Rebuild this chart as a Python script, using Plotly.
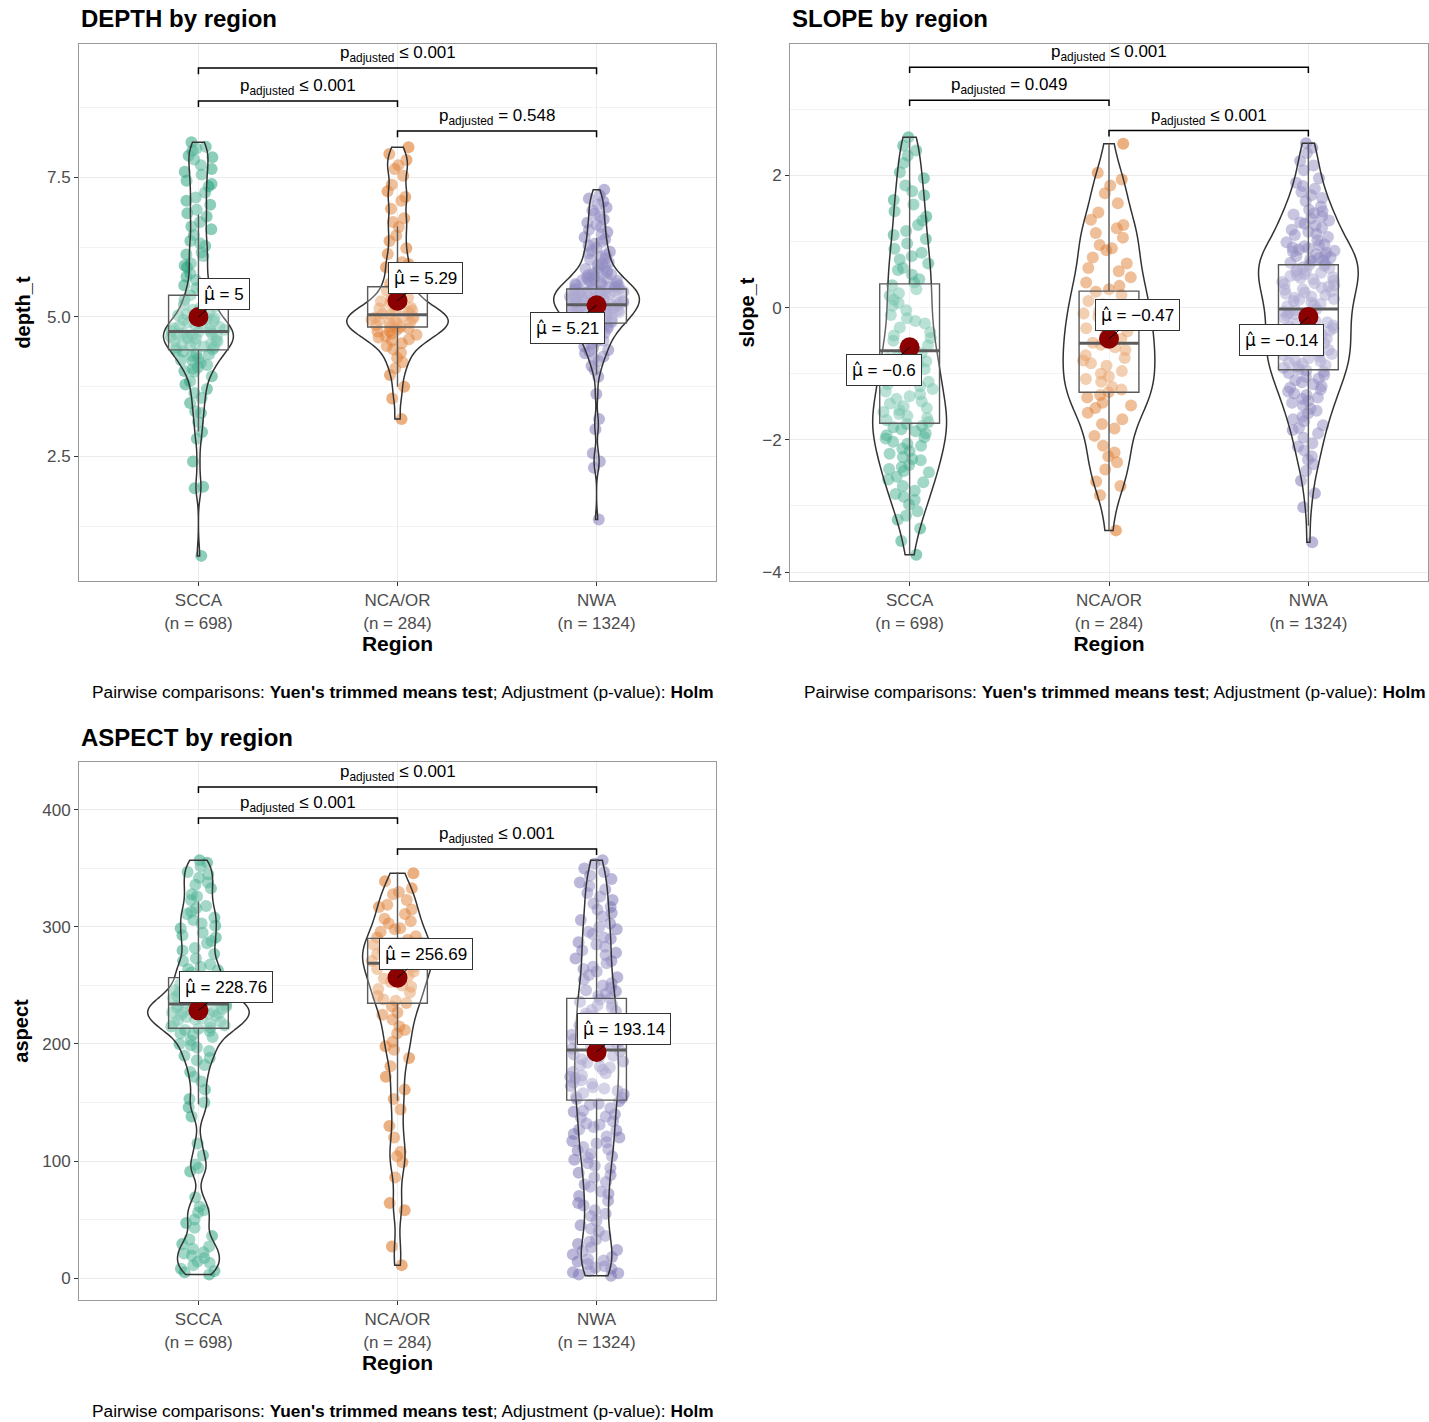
import plotly.graph_objects as go

W, H = 1429, 1422
FONT = "Liberation Sans, Arial, Helvetica, sans-serif"

regions = ["SCCA", "NCA/OR", "NWA"]
n_obs = [698, 284, 1324]
region_colors = ["#1B9E77", "#D95F02", "#7570B3"]
bracket_pairs = [(0, 2), (0, 1), (1, 2)]  # top, middle, bottom bracket

# ---------------- DEPTH ----------------
depth_scca = [0.72, 1.93, 1.96, 2.41, 2.82, 2.94, 3.12, 3.28, 3.31, 3.46,
              3.55, 3.64, 3.71, 3.79, 3.85, 3.94,
              4.02, 4.07, 4.1, 4.18, 4.21, 4.25, 4.3, 4.33, 4.38, 4.4, 4.42, 4.46, 4.47, 4.49,
              4.51, 4.53, 4.57, 4.58, 4.61, 4.64, 4.65, 4.68, 4.7, 4.71, 4.74, 4.75, 4.79, 4.8,
              4.84, 4.86, 4.88, 4.93, 4.95, 4.98,
              5.03, 5.07, 5.13, 5.16, 5.22, 5.27, 5.33, 5.39, 5.43, 5.49,
              5.57, 5.66, 5.78, 5.89, 5.96, 6.09, 6.16, 6.27, 6.36, 6.47,
              6.57, 6.7, 6.8, 6.92, 7.01, 7.14, 7.23, 7.34, 7.44,
              7.55, 7.65, 7.72, 7.82, 7.89, 7.98, 8.05, 8.13,
              4.03, 4.14, 4.23, 4.34, 4.44, 4.52, 4.56, 4.62, 4.66, 4.69, 4.73, 4.77, 4.82, 4.9,
              4.97, 5.05, 5.19, 5.31, 5.52, 5.72, 5.92, 6.12, 6.32, 6.62, 6.86, 7.08, 7.38, 7.6,
              7.86, 8.02]
depth_nca = [3.17, 3.54, 3.75, 3.96,
             4.08, 4.19, 4.27, 4.36, 4.42, 4.48,
             4.53, 4.58, 4.63, 4.66, 4.7, 4.74, 4.77, 4.8, 4.83, 4.85, 4.89, 4.9, 4.94, 4.95, 4.97, 4.99,
             5.01, 5.04, 5.06, 5.1, 5.12, 5.17, 5.2, 5.24, 5.31, 5.35, 5.42, 5.47,
             5.56, 5.66, 5.76, 5.89, 5.98, 6.13, 6.23, 6.36, 6.46,
             6.61, 6.77, 6.94, 7.08, 7.25, 7.37, 7.53, 7.65, 7.81, 7.92, 8.04,
             4.6, 4.68, 4.75, 4.82, 4.88, 4.93, 5.0, 5.08, 5.15, 5.28, 5.6, 5.95, 6.7, 7.15, 7.72]
depth_nwa = [1.37, 2.3, 2.41, 2.56, 2.99, 3.17, 3.62, 3.93, 4.05,
             4.12, 4.21, 4.29, 4.35, 4.41, 4.47,
             4.52, 4.56, 4.59, 4.61, 4.65, 4.67, 4.71, 4.73, 4.76, 4.79,
             4.81, 4.83, 4.84, 4.87, 4.88, 4.9, 4.92, 4.94, 4.95, 4.96, 4.98, 4.99,
             5.01, 5.02, 5.04, 5.06, 5.07, 5.09, 5.1, 5.12, 5.13, 5.15, 5.16, 5.18, 5.19, 5.2,
             5.22, 5.23, 5.25, 5.26, 5.28, 5.29, 5.3, 5.32, 5.33, 5.34, 5.36, 5.37, 5.38, 5.4,
             5.41, 5.42, 5.44, 5.45, 5.46, 5.47, 5.48, 5.49, 5.5,
             5.52, 5.53, 5.56, 5.57, 5.59, 5.6, 5.62, 5.65, 5.66, 5.69, 5.7, 5.72, 5.75, 5.77, 5.79,
             5.83, 5.86, 5.9, 5.93, 5.98, 6.03, 6.05, 6.11, 6.14, 6.19,
             6.24, 6.31, 6.35, 6.43, 6.48, 6.56, 6.61, 6.69,
             6.75, 6.85, 6.91, 7.01, 7.07, 7.18, 7.28,
             4.45, 4.58, 4.69, 4.78, 4.86, 4.91, 4.97, 5.03, 5.08, 5.11, 5.14, 5.17, 5.21, 5.24,
             5.27, 5.31, 5.35, 5.39, 5.43, 5.46, 5.51, 5.54, 5.58, 5.63, 5.67, 5.71, 5.76, 5.81,
             5.88, 5.96, 6.08, 6.17, 6.28, 6.39, 6.52, 6.65, 6.8, 6.96, 7.12, 4.25, 4.38, 5.44,
             5.34, 5.25, 5.15]
depth_mean = [5.00, 5.29, 5.21]
depth_q1 = [4.41, 4.82, 4.89]
depth_median = [4.74, 5.04, 5.22]
depth_q3 = [5.39, 5.54, 5.50]
depth_lowerfence = [2.95, 3.75, 3.97]
depth_upperfence = [6.83, 6.62, 6.42]
depth_p = ["≤ 0.001", "≤ 0.001", "= 0.548"]

# ---------------- SLOPE ----------------
slope_scca = [2.05, 2.19, 2.3, 2.45, 2.58,
              1.04, 1.16, 1.25, 1.38, 1.46, 1.56, 1.63, 1.76, 1.85, 1.96,
              0.03, 0.12, 0.18, 0.28, 0.34, 0.43, 0.5, 0.57, 0.67, 0.73, 0.83, 0.89, 0.97,
              -0.04, -0.11, -0.16, -0.24, -0.3, -0.37, -0.42, -0.5, -0.57, -0.61, -0.69, -0.73,
              -0.81, -0.85, -0.93, -0.98,
              -1.03, -1.09, -1.12, -1.19, -1.23, -1.27, -1.34, -1.38, -1.42, -1.49, -1.52, -1.58,
              -1.61, -1.67, -1.7, -1.73, -1.79, -1.81, -1.87, -1.9, -1.93, -1.98,
              -2.03, -2.09, -2.13, -2.21, -2.26, -2.31, -2.38, -2.41, -2.47, -2.49,
              -2.56, -2.64, -2.7, -2.77, -2.86, -2.91, -2.98,
              -3.08, -3.21, -3.34, -3.53, -3.74,
              2.38, 1.7, 1.32, 1.1, 0.78, 0.6, 0.38, 0.22, 0.07, -0.2, -0.46, -0.65, -0.77, -0.9,
              -1.06, -1.16, -1.31, -1.45, -1.55, -1.64, -1.76, -1.84, -1.96, -2.06, -2.17, -2.29,
              -2.44, -2.6, -2.82, -3.15]
slope_nca = [1.58, 1.73, 1.85, 2.04, 2.48,
             0.55, 0.67, 0.76, 0.87, 0.95, 1.06, 1.13, 1.25, 1.33, 1.44,
             0.46, 0.38, 0.33, 0.24, 0.19, 0.1, 0.05, -0.03, -0.09, -0.14, -0.23, -0.27, -0.36, -0.4, -0.47,
             -0.53, -0.6, -0.64, -0.72, -0.76, -0.84, -0.88, -0.96, -1.0, -1.08, -1.12, -1.2,
             -1.24, -1.32, -1.36, -1.44, -1.48,
             -1.59, -1.69, -1.83, -1.94, -2.09, -2.19, -2.34, -2.45,
             -2.63, -2.84, -3.37,
             1.94, 1.2, 0.9, 0.6, 0.28, -0.06, -0.31, -0.56, -0.8, -1.04, -1.28, -1.52, -1.76,
             -2.25, -2.7]
slope_nwa = [2.08, 2.22, 2.34, 2.49,
             1.53, 1.61, 1.66, 1.75, 1.8, 1.89, 1.96,
             1.02, 1.07, 1.1, 1.15, 1.18, 1.24, 1.27, 1.32, 1.35, 1.41, 1.43, 1.48,
             0.51, 0.55, 0.56, 0.6, 0.61, 0.65, 0.66, 0.7, 0.71, 0.75, 0.76, 0.8, 0.81, 0.85,
             0.86, 0.9, 0.91, 0.95, 0.96, 0.99,
             0.02, 0.06, 0.08, 0.12, 0.13, 0.17, 0.19, 0.23, 0.25, 0.28, 0.3, 0.34, 0.36, 0.39,
             0.41, 0.45, 0.46, 0.49,
             -0.02, -0.06, -0.08, -0.12, -0.14, -0.18, -0.2, -0.24, -0.27, -0.31, -0.33, -0.37,
             -0.39, -0.43, -0.45, -0.49,
             -0.52, -0.56, -0.58, -0.62, -0.64, -0.68, -0.7, -0.74, -0.77, -0.81, -0.83, -0.87,
             -0.89, -0.93, -0.95, -0.99,
             -1.02, -1.07, -1.1, -1.16, -1.19, -1.24, -1.27, -1.32, -1.36, -1.41, -1.44, -1.48,
             -1.53, -1.6, -1.65, -1.72, -1.78, -1.85, -1.9, -1.97,
             -2.05, -2.16, -2.25, -2.37, -2.47,
             -2.62, -2.81, -3.02, -3.55,
             2.15, 2.42, 1.7, 1.84, 1.12, 1.21, 1.29, 1.38, 1.46, 0.53, 0.58, 0.63, 0.68, 0.73,
             0.78, 0.83, 0.88, 0.93, 0.04, 0.1, 0.15, 0.21, 0.27, 0.32, 0.37, 0.43, 0.48, -0.04,
             -0.1, -0.16, -0.22, -0.29, -0.35, -0.41, -0.47, -0.54, -0.6, -0.66, -0.72, -0.79,
             -0.85, -0.91, -0.97, -1.05, -1.13, -1.21, -1.3, -1.38, -1.56, -1.69, -1.82, -2.1, -2.3]
slope_mean = [-0.60, -0.47, -0.14]
slope_q1 = [-1.75, -1.28, -0.94]
slope_median = [-0.65, -0.54, -0.02]
slope_q3 = [0.36, 0.25, 0.65]
slope_lowerfence = [-3.74, -3.37, -3.30]
slope_upperfence = [2.58, 2.48, 2.49]
slope_p = ["≤ 0.001", "= 0.049", "≤ 0.001"]

# ---------------- ASPECT ----------------
aspect_scca = [3, 5, 8, 11, 14, 17, 19, 22, 25, 29, 36, 43,
               50, 56, 61, 69, 91, 94, 97, 115,
               138, 146, 153, 161, 168, 176,
               182, 186, 190, 194, 197, 200, 203, 206, 209,
               211, 212, 213, 214, 215, 216, 217, 218, 219, 220, 221, 222, 223, 224, 225, 226,
               226, 227, 227, 228, 229, 229, 230, 231, 232, 233, 234, 235, 236, 237, 238, 239,
               240, 241, 242, 244,
               246, 249, 252, 255, 258, 261, 264, 268,
               273, 277, 282, 286, 291, 295, 299, 303, 308,
               313, 318, 323, 328, 333, 338, 342, 347, 352, 357,
               6, 13, 21, 27, 33, 47, 58, 105, 150, 172, 188, 199, 208, 247, 251, 257, 263, 266,
               271, 280, 288, 293, 301, 306, 311, 316, 326, 336, 345, 355]
aspect_nca = [11, 27, 58, 64, 86, 99, 104, 108, 120, 130, 144, 153, 161, 172,
              181, 188, 195, 202, 209, 215, 221, 227,
              232, 235, 238, 241, 244, 247, 250, 253, 256, 259, 262, 264, 266, 268,
              271, 273, 275, 277, 279, 281, 283, 286, 289, 292, 296, 299, 303, 307,
              311, 315, 319, 323, 328, 333, 339, 346,
              198, 212, 225, 237, 249, 258, 267, 274, 280, 285, 291, 298, 305, 317, 330]
aspect_nwa = [303, 309, 315, 320, 326, 332, 338, 344, 350, 357,
              252, 255, 259, 262, 266, 269, 273, 276, 280, 283, 287, 290, 294, 298,
              201, 203, 206, 208, 211, 213, 216, 218, 221, 223, 226, 228, 231, 233, 236, 238,
              241, 243, 246, 248,
              151, 153, 155, 157, 160, 162, 164, 166, 169, 171, 173, 175, 178, 180, 182, 184,
              187, 189, 191, 193, 196, 198,
              101, 104, 106, 109, 112, 115, 117, 120, 123, 126, 129, 131, 134, 137, 140, 142,
              145, 148,
              62, 66, 70, 74, 78, 82, 86, 90, 94, 98,
              36, 40, 45, 49, 53, 58,
              2, 4, 6, 8, 10, 12, 14, 16, 18, 20, 23, 26, 29, 33,
              354, 347, 341, 335, 329, 323, 317, 312, 306, 300, 296, 291, 285, 278, 271, 264,
              257, 250, 245, 239, 234, 229, 224, 219, 214, 209, 204, 199, 194, 190, 185, 181,
              176, 172, 167, 163, 158, 154, 149, 143, 138, 132, 127, 121, 116, 110, 103, 96,
              88, 80, 72, 64, 55, 42, 31, 24, 15, 9, 5, 3]
aspect_mean = [228.76, 256.69, 193.14]
aspect_q1 = [213.4, 234.8, 152.0]
aspect_median = [234.2, 269.0, 194.9]
aspect_q3 = [256.7, 290.3, 239.0]
aspect_lowerfence = [148.4, 151.5, 2.0]
aspect_upperfence = [321.7, 347.0, 358.0]
aspect_p = ["≤ 0.001", "≤ 0.001", "≤ 0.001"]

# ---------------- panel layout/style ----------------
panels = [
    dict(title="DEPTH by region", ytitle="depth_t", xa="x", ya="y",
         samples=[depth_scca, depth_nca, depth_nwa], mean=depth_mean,
         q1=depth_q1, med=depth_median, q3=depth_q3, lf=depth_lowerfence, uf=depth_upperfence,
         p=depth_p, px=(79, 716), py=(44, 581), yrange=[0.27, 9.89], dtick=2.5, minor=1.25,
         fmt=".1f", br=[9.46, 8.87, 8.33], tip=0.11, standoff=10,
         vwidth=[0.35, 0.51, 0.43], bw=[0.2, 0.17, 0.15],
         off=[(26, -23), (28, -23), (-29, 23)]),
    dict(title="SLOPE by region", ytitle="slope_t", xa="x2", ya="y2",
         samples=[slope_scca, slope_nca, slope_nwa], mean=slope_mean,
         q1=slope_q1, med=slope_median, q3=slope_q3, lf=slope_lowerfence, uf=slope_upperfence,
         p=slope_p, px=(790, 1428), py=(44, 581), yrange=[-4.136, 3.99], dtick=2, minor=1,
         fmt="d", br=[3.64, 3.14, 2.68], tip=0.09, standoff=2,
         vwidth=[0.37, 0.46, 0.5], bw=[0.33, 0.33, 0.27],
         off=[(-26, 23), (28, -24), (-27, 23)]),
    dict(title="ASPECT by region", ytitle="aspect", xa="x3", ya="y3",
         samples=[aspect_scca, aspect_nca, aspect_nwa], mean=aspect_mean,
         q1=aspect_q1, med=aspect_median, q3=aspect_q3, lf=aspect_lowerfence, uf=aspect_upperfence,
         p=aspect_p, px=(79, 716), py=(762, 1300), yrange=[-18.8, 441.0], dtick=100, minor=50,
         fmt="d", br=[419.7, 393.2, 366.7], tip=5.1, standoff=8,
         vwidth=[0.51, 0.35, 0.22], bw=[8, 13, 17],
         off=[(28, -23), (28, -24), (27, -23)]),
]

BOX_W = 0.3
JIT_W = 0.28
MU_HAT = '<span style="font-family:DejaVu Sans">\u03bc\u0302</span>'

fig = go.Figure()
annotations = []
layout_axes = {}

for k, P in enumerate(panels):
    xa, ya = P["xa"], P["ya"]
    # jittered raw points (drawn first)
    for i in range(3):
        fig.add_trace(go.Violin(
            x0=i, y=P["samples"][i], xaxis=xa, yaxis=ya, width=JIT_W,
            points="all", pointpos=0, jitter=1, spanmode="hard",
            fillcolor="rgba(0,0,0,0)", line=dict(color="rgba(0,0,0,0)", width=0),
            marker=dict(color=region_colors[i], size=12, opacity=0.5, line=dict(width=0)),
            showlegend=False, hoverinfo="y"))
    # violin outlines
    for i in range(3):
        fig.add_trace(go.Violin(
            x0=i, y=P["samples"][i], xaxis=xa, yaxis=ya, width=P["vwidth"][i],
            scalemode="width", points=False, spanmode="hard", bandwidth=P["bw"][i],
            fillcolor="rgba(255,255,255,0.2)", line=dict(color="#333333", width=1.5),
            box_visible=False, meanline_visible=False, showlegend=False, hoverinfo="skip"))
    # boxes from summary statistics
    fig.add_trace(go.Box(
        x=[0, 1, 2], q1=P["q1"], median=P["med"], q3=P["q3"],
        lowerfence=P["lf"], upperfence=P["uf"], xaxis=xa, yaxis=ya,
        width=BOX_W, whiskerwidth=0, boxpoints=False,
        fillcolor="rgba(255,255,255,0.25)", line=dict(color="#5a5a5a", width=1.4),
        showlegend=False, hoverinfo="skip"))
    # thick median lines
    for i in range(3):
        fig.add_trace(go.Scatter(
            x=[i - BOX_W / 2, i + BOX_W / 2], y=[P["med"][i], P["med"][i]],
            xaxis=xa, yaxis=ya, mode="lines", line=dict(color="#5c5c5c", width=3),
            showlegend=False, hoverinfo="skip"))
    # significance brackets
    for j, (a, b) in enumerate(bracket_pairs):
        yb = P["br"][j]
        fig.add_trace(go.Scatter(
            x=[a, a, b, b], y=[yb - P["tip"], yb, yb, yb - P["tip"]],
            xaxis=xa, yaxis=ya, mode="lines", line=dict(color="black", width=1.5),
            showlegend=False, hoverinfo="skip"))
        annotations.append(dict(
            x=(a + b) / 2, y=yb, xref=xa, yref=ya, showarrow=False,
            text=f"p<sub>adjusted</sub> {P['p'][j]}", yanchor="bottom", yshift=1,
            font=dict(size=17, color="black", family=FONT)))
    # means
    fig.add_trace(go.Scatter(
        x=[0, 1, 2], y=P["mean"], xaxis=xa, yaxis=ya, mode="markers",
        marker=dict(color="#8B0000", size=20, line=dict(width=0)),
        showlegend=False, hoverinfo="y"))
    for i in range(3):
        lab = f"{P['mean'][i]:g}".replace("-", "\u2212")
        annotations.append(dict(
            x=i, y=P["mean"][i], xref=xa, yref=ya, text=f"{MU_HAT} = {lab}",
            showarrow=True, arrowhead=0, arrowwidth=1, arrowcolor="black", standoff=0,
            ax=P["off"][i][0], ay=P["off"][i][1], axref="pixel", ayref="pixel",
            bgcolor="white", bordercolor="#333333", borderwidth=1, borderpad=5,
            font=dict(size=17, color="black", family=FONT)))

    # axes
    x0p, x1p = P["px"]
    y0p, y1p = P["py"]
    xkey = "xaxis" + xa[1:]
    ykey = "yaxis" + ya[1:]
    layout_axes[xkey] = dict(
        domain=[x0p / W, x1p / W], anchor=ya, range=[-0.6, 2.6],
        tickvals=[0, 1, 2], ticktext=[f"{r}<br>(n = {n})" for r, n in zip(regions, n_obs)],
        tickfont=dict(size=17, color="#4D4D4D", family=FONT),
        ticks="outside", ticklen=4, tickcolor="#333333",
        showgrid=True, gridcolor="#EBEBEB", gridwidth=1, zeroline=False,
        showline=True, mirror=True, linecolor="#999999", linewidth=1,
        title=dict(text="<b>Region</b>", font=dict(size=21, color="black", family=FONT), standoff=0))
    layout_axes[ykey] = dict(
        domain=[1 - y1p / H, 1 - y0p / H], anchor=xa, range=P["yrange"],
        tick0=0, dtick=P["dtick"], tickformat=P["fmt"],
        tickfont=dict(size=17, color="#4D4D4D", family=FONT),
        ticks="outside", ticklen=4, tickcolor="#333333",
        showgrid=True, gridcolor="#EBEBEB", gridwidth=1, zeroline=False,
        minor=dict(tick0=0, dtick=P["minor"], showgrid=True, gridcolor="#F3F3F3", ticks=""),
        showline=True, mirror=True, linecolor="#999999", linewidth=1,
        title=dict(text=f"<b>{P['ytitle']}</b>", font=dict(size=20, color="black", family=FONT),
                   standoff=P["standoff"]))

    # panel title and caption
    annotations.append(dict(
        x=x0p / W, y=1 - (y0p - 25) / H, xref="paper", yref="paper", showarrow=False,
        xanchor="left", yanchor="middle", text=f"<b>{P['title']}</b>",
        font=dict(size=24, color="black", family=FONT)))
    annotations.append(dict(
        x=x1p / W, y=1 - (y1p + 111) / H, xref="paper", yref="paper", showarrow=False,
        xanchor="right", yanchor="middle",
        text="Pairwise comparisons: <b>Yuen's trimmed means test</b>; Adjustment (p-value): <b>Holm</b>",
        font=dict(size=17.3, color="black", family=FONT)))

fig.update_layout(
    width=W, height=H, margin=dict(l=0, r=0, t=0, b=0),
    paper_bgcolor="white", plot_bgcolor="white",
    violinmode="overlay", boxmode="overlay", showlegend=False,
    font=dict(family=FONT, color="black"),
    annotations=annotations, **layout_axes)

fig.write_html("out.html", config={"displayModeBar": False},
               post_script="document.body.style.margin='0';document.body.style.overflow='hidden';")
